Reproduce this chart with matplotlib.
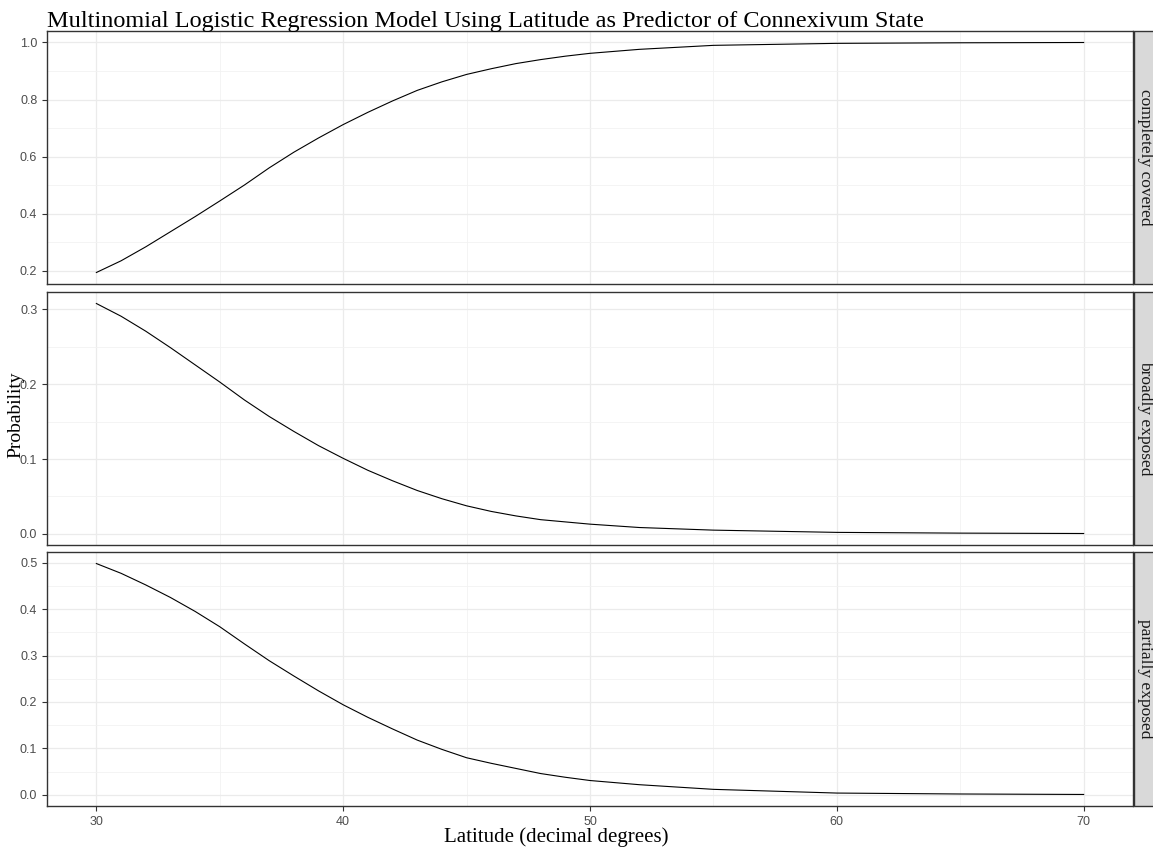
import numpy as np
import matplotlib.pyplot as plt
from matplotlib.patches import Rectangle
from matplotlib.ticker import MultipleLocator

# predicted probabilities
latitude = [30, 31, 32, 33, 34, 35, 36, 37, 38, 39, 40, 41, 42, 43, 44, 45,
            46, 47, 48, 49, 50, 52, 55, 60, 65, 70]
p_covered = [0.193, 0.234, 0.283, 0.336, 0.389, 0.444, 0.500, 0.560, 0.615,
             0.665, 0.712, 0.755, 0.795, 0.832, 0.862, 0.888, 0.908, 0.926,
             0.940, 0.952, 0.962, 0.976, 0.990, 0.997, 0.999, 1.0]
p_broadly = [0.308, 0.291, 0.271, 0.249, 0.226, 0.203, 0.179, 0.157, 0.137,
             0.118, 0.101, 0.085, 0.071, 0.058, 0.047, 0.0375, 0.030, 0.024,
             0.019, 0.016, 0.013, 0.0085, 0.005, 0.002, 0.001, 0.0005]
p_partially = [0.498, 0.477, 0.452, 0.425, 0.395, 0.362, 0.325, 0.289, 0.256,
               0.224, 0.194, 0.167, 0.142, 0.118, 0.098, 0.080, 0.068, 0.057,
               0.046, 0.038, 0.031, 0.022, 0.012, 0.004, 0.002, 0.001]
states = ["completely covered", "broadly exposed", "partially exposed"]
series = [p_covered, p_broadly, p_partially]
major_step = [0.2, 0.1, 0.1]

W, H = 1153, 849
fig = plt.figure(figsize=(W / 100, H / 100), dpi=100)
serif = "Liberation Serif"

left, right = 47, 1133
rows = [(31, 284), (292, 545), (552, 806)]

for i, (top, bot) in enumerate(rows):
    ax = fig.add_axes([left / W, 1 - bot / H, (right - left) / W, (bot - top) / H])
    ax.plot(latitude, series[i], color="black", lw=0.8, zorder=3)
    ax.set_xlim(28, 72)
    ymin, ymax = min(series[i]), max(series[i])
    pad = (ymax - ymin) * 0.05
    ax.set_ylim(ymin - pad, ymax + pad)
    ax.xaxis.set_major_locator(MultipleLocator(10))
    ax.xaxis.set_minor_locator(MultipleLocator(5))
    ax.yaxis.set_major_locator(MultipleLocator(major_step[i]))
    ax.yaxis.set_minor_locator(MultipleLocator(major_step[i] / 2))
    ax.grid(which="major", color="#EBEBEB", lw=0.9, zorder=0)
    ax.grid(which="minor", color="#F2F2F2", lw=0.6, zorder=0)
    ax.set_axisbelow(True)
    for s in ax.spines.values():
        s.set_color("#333333")
        s.set_linewidth(1.0)
    ax.tick_params(which="major", length=3.5, width=0.8, color="#333333",
                   labelcolor="#4D4D4D", labelsize=9)
    ax.tick_params(which="minor", length=0)
    ax.yaxis.set_major_formatter(plt.FuncFormatter(lambda v, p: "%.1f" % v))
    for lab in ax.get_yticklabels():
        lab.set_fontfamily("Liberation Sans")
    if i < 2:
        ax.tick_params(axis="x", which="both", bottom=False, labelbottom=False)
    else:
        for lab in ax.get_xticklabels():
            lab.set_fontfamily("Liberation Sans")

    # facet strip on the right
    strip = Rectangle(((right + 1) / W, 1 - bot / H), 30 / W, (bot - top) / H,
                      transform=fig.transFigure, facecolor="#D9D9D9",
                      edgecolor="#333333", lw=1.0, clip_on=False)
    fig.patches.append(strip)
    fig.text((right + 12) / W, 1 - (top + bot) / 2 / H, states[i],
             rotation=270, ha="center", va="center", fontsize=12.5,
             family=serif, color="#1A1A1A")

fig.text(left / W, 1 - 27 / H, "Multinomial Logistic Regression Model Using Latitude as Predictor of Connexivum State",
         ha="left", va="baseline", fontsize=17.5, family=serif, color="black")
fig.text(16 / W, 1 - 415 / H, "Probability", rotation=90, ha="center",
         va="center", fontsize=14, family=serif, color="black")
fig.text(556 / W, 1 - 842 / H, "Latitude (decimal degrees)", ha="center",
         va="baseline", fontsize=15, family=serif, color="black")

plt.savefig("out.png", dpi=100)
